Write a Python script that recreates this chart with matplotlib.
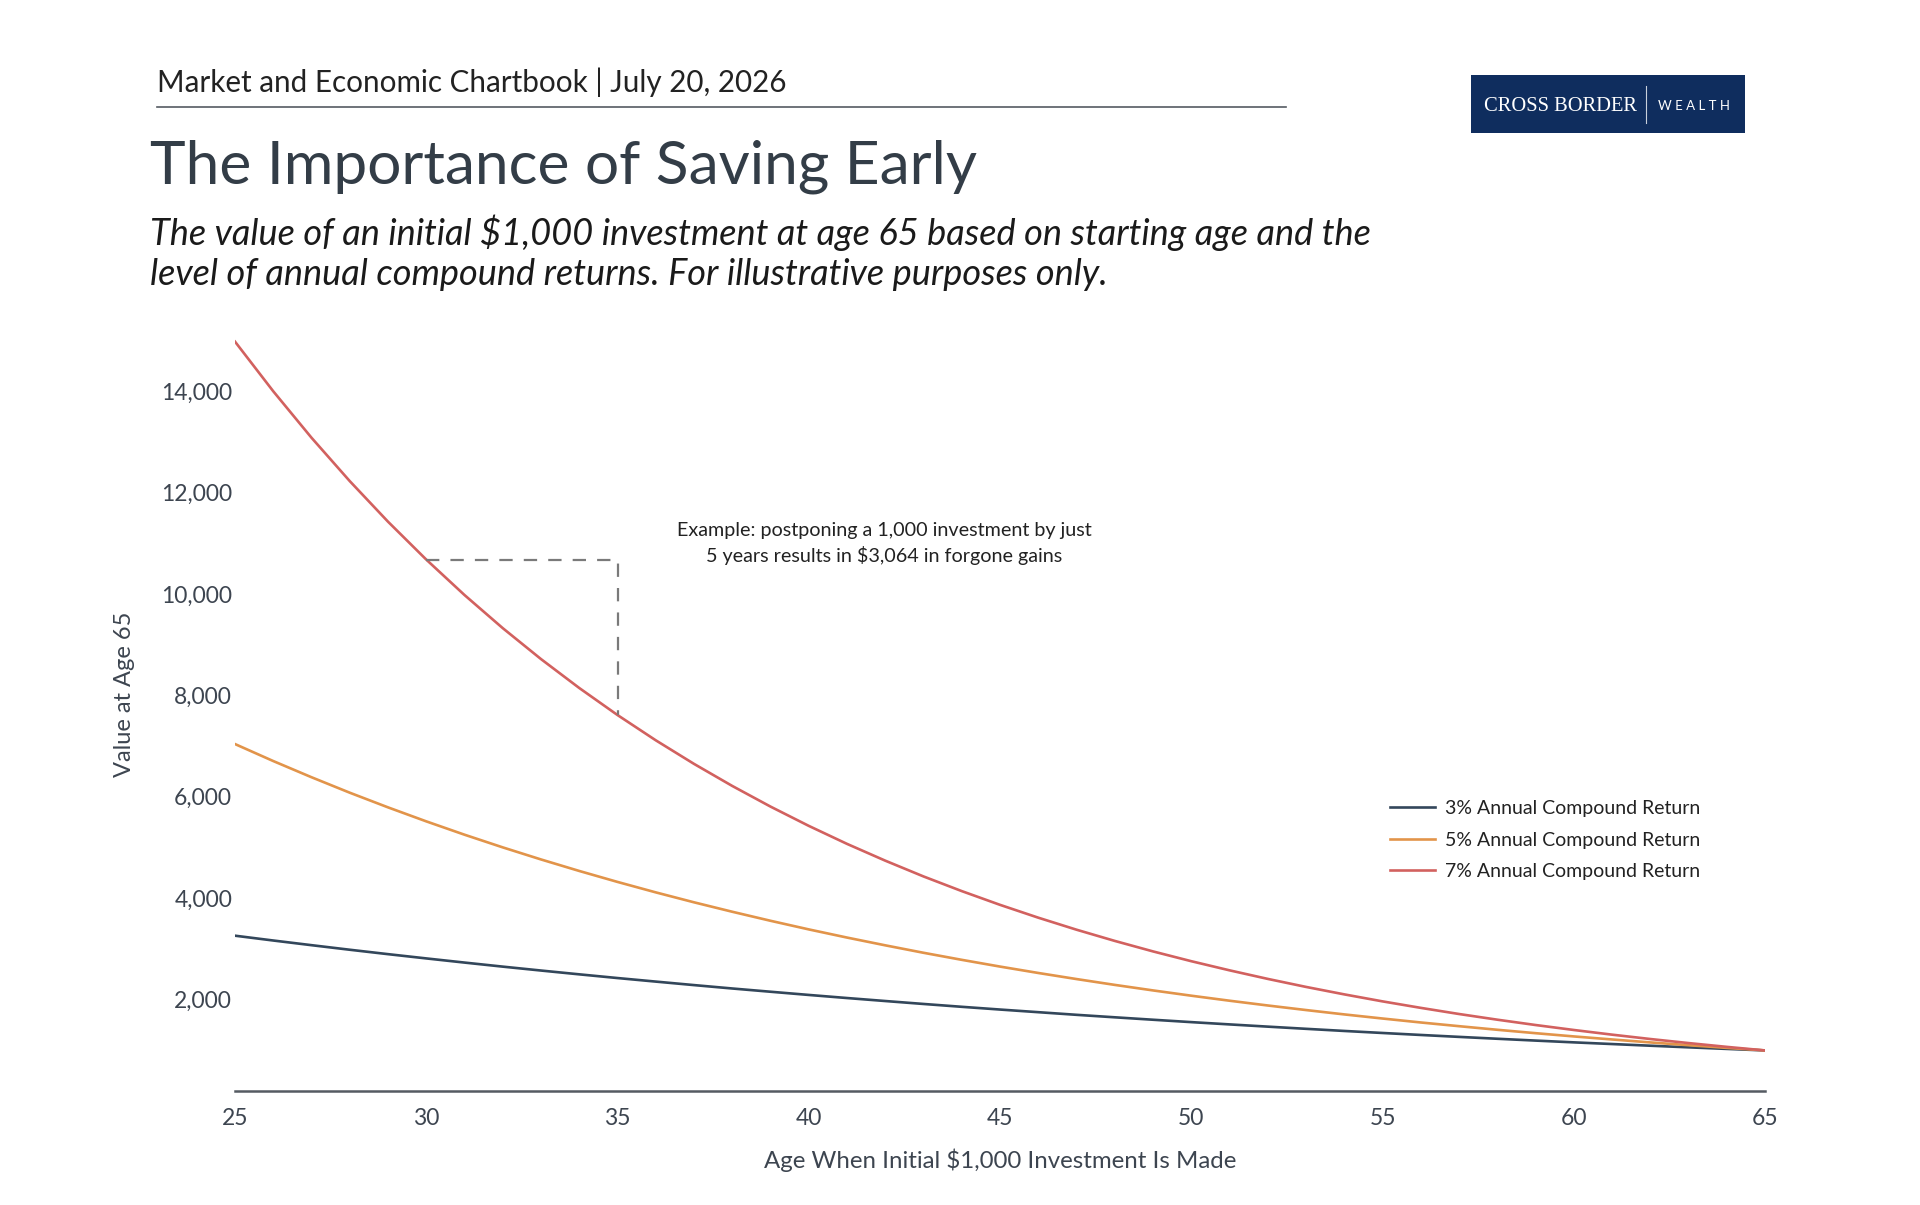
import matplotlib.pyplot as plt
from matplotlib.patches import Rectangle
from matplotlib.ticker import FuncFormatter

plt.rcParams['font.family'] = ['Lato', 'DejaVu Sans']

# starting age and value at 65 of $1,000 for each return level
ages = list(range(25, 66))
r3 = [3262, 3167, 3075, 2985, 2898, 2814, 2732, 2652, 2575, 2500, 2427, 2357, 2288, 2221,
      2157, 2094, 2033, 1974, 1916, 1860, 1806, 1754, 1702, 1653, 1605, 1558, 1513, 1469,
      1426, 1384, 1344, 1305, 1267, 1230, 1194, 1159, 1126, 1093, 1061, 1030, 1000]
r5 = [7040, 6705, 6386, 6081, 5792, 5516, 5253, 5003, 4765, 4538, 4322, 4116, 3920, 3734,
      3556, 3386, 3225, 3072, 2925, 2786, 2653, 2527, 2407, 2292, 2183, 2079, 1980, 1886,
      1796, 1710, 1629, 1551, 1478, 1407, 1340, 1276, 1216, 1158, 1103, 1050, 1000]
r7 = [14974, 13995, 13079, 12224, 11424, 10677, 9978, 9325, 8715, 8145, 7612, 7114, 6649,
      6214, 5807, 5427, 5072, 4741, 4430, 4141, 3870, 3617, 3380, 3159, 2952, 2759, 2579,
      2410, 2252, 2105, 1967, 1839, 1718, 1606, 1501, 1403, 1311, 1225, 1145, 1070, 1000]
labels = ['3% Annual Compound Return', '5% Annual Compound Return', '7% Annual Compound Return']
colors = ['#33475b', '#e2944a', '#d2615f']

# the example: start at 30 vs 35 at 7%
ex_start, ex_end = 30, 35
ex_hi = r7[ages.index(ex_start)]
ex_lo = r7[ages.index(ex_end)]

fig = plt.figure(figsize=(19.2, 12.05), dpi=100)
ax = fig.add_axes([0.1224, 0.0946, 0.7969, 0.6272])

for vals, lab, c in zip([r3, r5, r7], labels, colors):
    ax.plot(ages, vals, color=c, lw=1.9, label=lab)

ax.plot([ex_start, ex_end, ex_end], [ex_hi, ex_hi, ex_lo], color='#7a7a7a', lw=1.6,
        dashes=(6, 5))
ax.text(41.97, 11000, 'Example: postponing a 1,000 investment by just\n5 years results in $3,064 in forgone gains',
        ha='center', va='center', fontsize=14.2, color='#222222', linespacing=1.45)

ax.set_xlim(25, 65)
ax.set_ylim(200, 15100)
ax.set_xticks(range(25, 66, 5))
ax.set_yticks(range(2000, 14001, 2000))
ax.yaxis.set_major_formatter(FuncFormatter(lambda v, p: f'{int(v):,}'))
ax.tick_params(axis='both', length=0, labelsize=16.5, labelcolor='#3d4550')
ax.tick_params(axis='x', pad=12)
ax.tick_params(axis='y', pad=2)
for s in ['top', 'right', 'left']:
    ax.spines[s].set_visible(False)
ax.spines['bottom'].set_color('#555b62')
ax.spines['bottom'].set_linewidth(1.8)

ax.legend(loc='center left', bbox_to_anchor=(0.7435, 0.332), frameon=False, fontsize=14,
          handlelength=2.3, handletextpad=0.5, labelspacing=0.75, labelcolor='#222222')

fig.text(0.5208, 0.0373, 'Age When Initial $1,000 Investment Is Made', ha='center',
         va='center', fontsize=17.3, color='#3d4550')
fig.text(0.0651, 0.424, 'Value at Age 65', rotation=90, ha='center', va='center',
         fontsize=17, color='#3d4550')

# header
fig.text(0.0818, 0.932, 'Market and Economic Chartbook | July 20, 2026', ha='left',
         va='center', fontsize=21.3, color='#222222')
fig.add_artist(plt.Line2D([0.0818, 0.6698], [0.911, 0.911], color='#555b62', lw=1.2))
fig.text(0.078, 0.862, 'The Importance of Saving Early', ha='left', va='center',
         fontsize=43.5, color='#333d47')
fig.text(0.078, 0.807, 'The value of an initial $1,000 investment at age 65 based on starting age and the',
         ha='left', va='center', fontsize=26, style='italic', color='#1a1a1a')
fig.text(0.078, 0.7725, 'level of annual compound returns. For illustrative purposes only.',
         ha='left', va='center', fontsize=26, style='italic', color='#1a1a1a')

# logo
fig.add_artist(Rectangle((0.766, 0.8896), 0.1427, 0.0482, transform=fig.transFigure,
                         facecolor='#0f2d5e', edgecolor='none'))
fig.text(0.8125, 0.9117, 'CROSS BORDER', ha='center', va='center', fontsize=14.8,
         family='Liberation Serif', color='white')
fig.add_artist(plt.Line2D([0.8575, 0.8575], [0.898, 0.929], color='#c8d0dc', lw=0.8))
fig.text(0.8825, 0.9117, 'W E A L T H', ha='center', va='center', fontsize=9.5,
         color='white')

fig.savefig('out.png', dpi=100, facecolor='white')
